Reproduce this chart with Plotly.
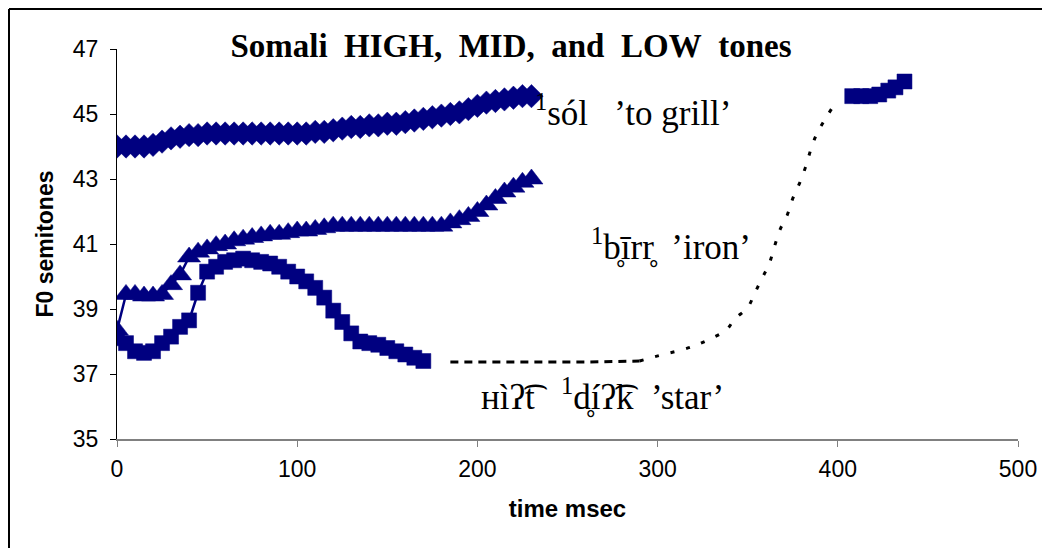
import plotly.graph_objects as go

# HIGH tone: sól 'to grill' (diamonds)
high_t = [0, 5, 10, 15, 20, 25, 30, 35, 40, 45, 50, 55, 60, 65, 70, 75, 80, 85, 90, 95,
          100, 105, 110, 115, 120, 125, 130, 135, 140, 145, 150, 155, 160, 165, 170, 175,
          180, 185, 190, 195, 200, 205, 210, 215, 220, 225, 230]
high_f0 = [44.0, 44.0, 44.0, 44.0, 44.05, 44.15, 44.25, 44.3, 44.35, 44.35, 44.4, 44.4,
           44.4, 44.4, 44.4, 44.4, 44.4, 44.4, 44.4, 44.4, 44.4, 44.4, 44.45, 44.45, 44.5,
           44.55, 44.6, 44.6, 44.65, 44.65, 44.7, 44.7, 44.75, 44.8, 44.85, 44.9, 44.95,
           45.0, 45.05, 45.15, 45.25, 45.35, 45.4, 45.45, 45.5, 45.55, 45.55]

# MID tone: bīrr 'iron' (triangles)
mid_t = [0, 5, 10, 15, 20, 25, 30, 35, 40, 45, 50, 55, 60, 65, 70, 75, 80, 85, 90, 95,
         100, 105, 110, 115, 120, 125, 130, 135, 140, 145, 150, 155, 160, 165, 170, 175,
         180, 185, 190, 195, 200, 205, 210, 215, 220, 225, 230]
mid_f0 = [38.35, 39.45, 39.45, 39.4, 39.4, 39.45, 39.75, 40.05, 40.6, 40.75, 40.85, 40.95,
          41.0, 41.1, 41.15, 41.2, 41.25, 41.3, 41.3, 41.35, 41.4, 41.4, 41.45, 41.5, 41.55,
          41.55, 41.55, 41.55, 41.55, 41.55, 41.55, 41.55, 41.55, 41.55, 41.55, 41.55,
          41.55, 41.65, 41.75, 41.85, 42.0, 42.2, 42.4, 42.6, 42.75, 42.9, 43.0]

# LOW tone: Hìʔt ˈdíʔk 'star' (squares), first syllable
low_t = [0, 5, 10, 15, 20, 25, 30, 35, 40, 45, 50, 55, 60, 65, 70, 75, 80, 85, 90, 95,
         100, 105, 110, 115, 120, 125, 130, 135, 140, 145, 150, 155, 160, 165, 170]
low_f0 = [38.1, 37.95, 37.7, 37.65, 37.7, 37.95, 38.15, 38.45, 38.65, 39.5, 40.15, 40.3,
          40.45, 40.5, 40.55, 40.5, 40.45, 40.4, 40.3, 40.15, 40.0, 39.85, 39.65, 39.35,
          38.95, 38.6, 38.25, 38.0, 37.95, 37.9, 37.8, 37.7, 37.6, 37.5, 37.4]

# interpolated gap (dashed)
gap_flat_t = [185, 220, 260, 290]
gap_flat_f0 = [37.37, 37.37, 37.37, 37.4]
gap_curve_t = [290, 303, 314, 322, 330, 338, 343, 350, 354, 358, 362, 365, 368, 372, 375,
               379, 382, 385, 388, 392, 397]
gap_curve_f0 = [37.4, 37.6, 37.75, 37.9, 38.1, 38.35, 38.7, 39.05, 39.5, 39.95, 40.4,
                40.95, 41.45, 41.9, 42.4, 42.9, 43.35, 43.9, 44.35, 44.75, 45.2]

# second syllable of 'star'
low2_t = [408, 413, 418, 423, 428, 432, 437]
low2_f0 = [45.55, 45.55, 45.55, 45.6, 45.72, 45.82, 46.0]

x_ticks = [0, 100, 200, 300, 400, 500]
y_ticks = [35, 37, 39, 41, 43, 45, 47]

NAVY = "#000080"
SERIF = "Liberation Serif, Times New Roman, DejaVu Serif, serif"
SANS = "Liberation Sans, Arial, sans-serif"

L, R, T, B = 109, 40, 41, 117
W, H = 1050, 548
PW, PH = W - L - R, H - T - B

fig = go.Figure()
fig.add_trace(go.Scatter(x=high_t, y=high_f0, mode="lines+markers",
                         line=dict(color=NAVY, width=2.5),
                         marker=dict(symbol="diamond", size=18, color=NAVY,
                                     line=dict(color=NAVY, width=0.5))))
fig.add_trace(go.Scatter(x=mid_t, y=mid_f0, mode="lines+markers",
                         line=dict(color=NAVY, width=2.5),
                         marker=dict(symbol="triangle-up", size=20, color=NAVY,
                                     line=dict(color=NAVY, width=0.5))))
fig.add_trace(go.Scatter(x=low_t, y=low_f0, mode="lines+markers",
                         line=dict(color=NAVY, width=2.5),
                         marker=dict(symbol="square", size=15, color=NAVY,
                                     line=dict(color=NAVY, width=0.5))))
fig.add_trace(go.Scatter(x=low2_t, y=low2_f0, mode="lines+markers",
                         line=dict(color=NAVY, width=2.5),
                         marker=dict(symbol="square", size=15, color=NAVY,
                                     line=dict(color=NAVY, width=0.5))))
fig.add_trace(go.Scatter(x=gap_flat_t, y=gap_flat_f0, mode="lines",
                         line=dict(color="black", width=3, dash="8px,6px")))
fig.add_trace(go.Scatter(x=gap_curve_t, y=gap_curve_f0, mode="lines",
                         line=dict(color="black", width=3, dash="4px,12px", shape="spline")))

ann_font = dict(family=SERIF, size=35, color="black")
fig.add_annotation(x=231, y=45.1, xref="x", yref="y", showarrow=False,
                   xanchor="left", yanchor="middle", font=ann_font,
                   text="<sup>1</sup>sól\u00a0\u00a0 ’to grill’")
fig.add_annotation(x=262, y=40.97, xref="x", yref="y", showarrow=False,
                   xanchor="left", yanchor="middle", font=ann_font,
                   text="<sup>1</sup>b\u0325īrr\u0325\u00a0 ’iron’")
fig.add_annotation(x=201, y=36.35, xref="x", yref="y", showarrow=False,
                   xanchor="left", yanchor="middle", font=ann_font,
                   text="\u029cìʔ\u0361t\u00a0\u00a0 <sup>1</sup>d\u0325íʔ\u0361k\u00a0 ’star’")

# outer frame along the figure's top and left edges
fx = (1.0 - L) / PW
fy = 1 + (T - 1.0) / PH
fig.add_shape(type="line", xref="paper", yref="paper", x0=fx, x1=1.2, y0=fy, y1=fy,
              line=dict(color="black", width=2))
fig.add_shape(type="line", xref="paper", yref="paper", x0=fx, x1=fx, y0=fy, y1=-0.4,
              line=dict(color="black", width=2))

fig.update_layout(
    width=W, height=H,
    margin=dict(l=L, r=R, t=T, b=B),
    paper_bgcolor="white", plot_bgcolor="white",
    showlegend=False,
    title=dict(text="<b>Somali\u00a0 HIGH,\u00a0 MID,\u00a0 and\u00a0 LOW\u00a0 tones</b>",
               x=0.479, xanchor="center", y=0.931, yanchor="middle",
               font=dict(family=SERIF, size=33, color="black")),
    xaxis=dict(range=[0, 500], tickvals=x_ticks, showgrid=False, zeroline=False,
               showline=True, linecolor="#808080", linewidth=2,
               ticks="outside", ticklen=6, tickcolor="#808080", tickwidth=1,
               ticklabelstandoff=2,
               tickfont=dict(family=SANS, size=23, color="black"),
               title=dict(text="<b>time msec</b>", standoff=20,
                          font=dict(family=SANS, size=24, color="black"))),
    yaxis=dict(range=[35, 47], tickvals=y_ticks, showgrid=False, zeroline=False,
               showline=True, linecolor="black", linewidth=1,
               ticks="outside", ticklen=6, tickcolor="black", tickwidth=1,
               ticklabelstandoff=7,
               tickfont=dict(family=SANS, size=23, color="black"),
               title=dict(text="<b>F0 semitones</b>", standoff=12,
                          font=dict(family=SANS, size=23, color="black"))),
)

fig.write_html("out.html")
